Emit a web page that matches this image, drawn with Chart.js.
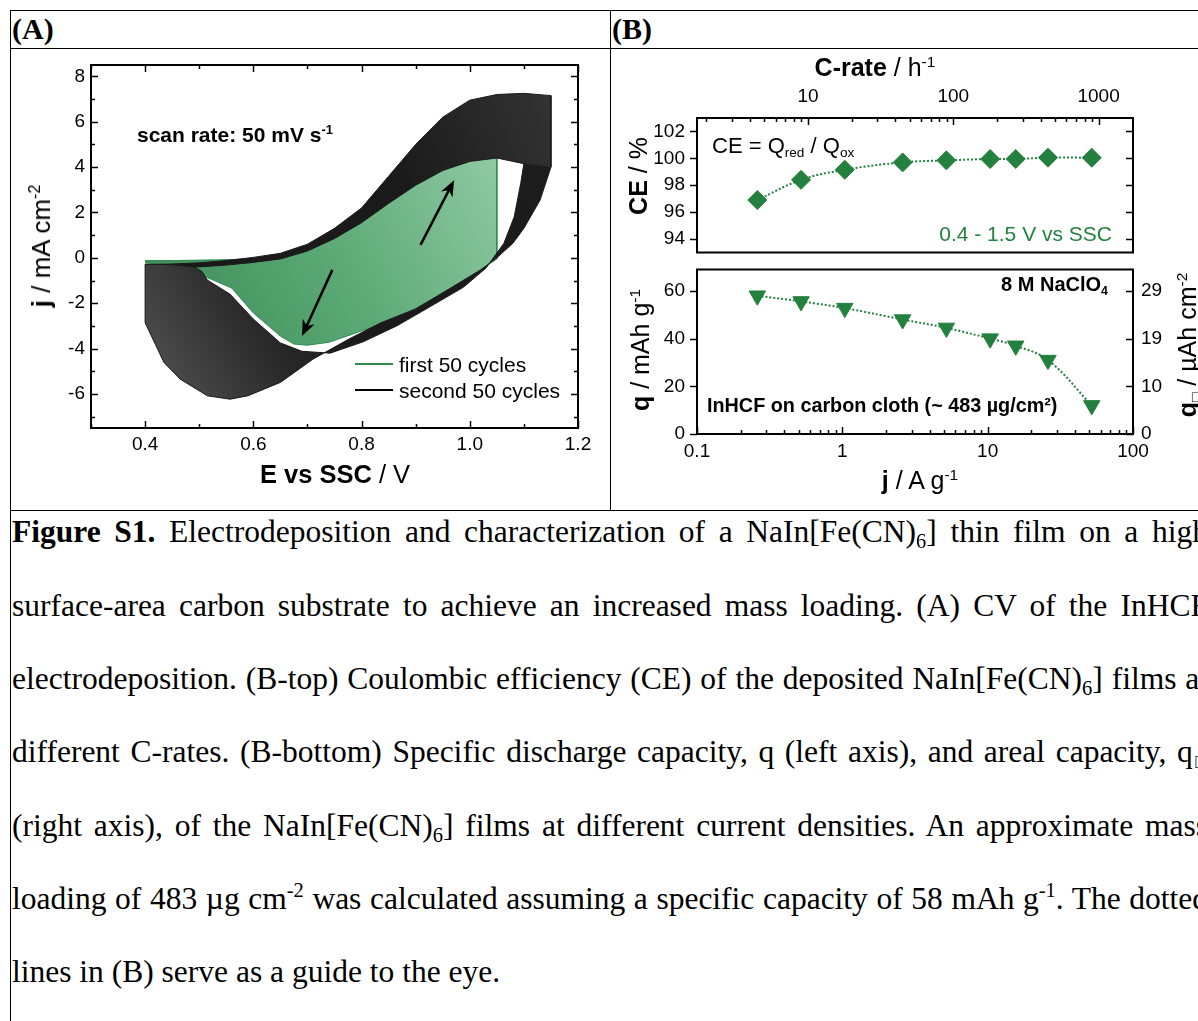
<!DOCTYPE html>
<html>
<head>
<meta charset="utf-8">
<title>Figure S1</title>
<script src="https://cdn.jsdelivr.net/npm/chart.js@4.4.1/dist/chart.umd.min.js"></script>
<style>
  html, body { margin: 0; padding: 0; }
  body { width: 1198px; height: 1021px; overflow: hidden; position: relative; background: #fff;
         font-family: "Liberation Sans", Arial, sans-serif; color: #000; }
  .hl { position: absolute; height: 1px; background: #000; }
  .vl { position: absolute; width: 1px; background: #000; }
  canvas { position: absolute; }
  .lbl { position: absolute; white-space: nowrap; line-height: 1; }
  .ctr { transform: translate(-50%, -50%); }
  .rot { transform: translate(-50%, -50%) rotate(-90deg); }
  .mid { transform: translateY(-50%); }
  .end { transform: translate(-100%, -50%); }
  sup, sub { font-size: 0.62em; line-height: 0; position: relative; vertical-align: baseline; }
  sup { top: -0.6em; }
  sub { top: 0.3em; }
  .tag { position: absolute; top: 14px; font: bold 30px "Liberation Serif", "Times New Roman", serif; line-height: 1; }
  .cap { position: absolute; left: 12px; width: 1196px; height: 44px; line-height: 44px; overflow: hidden;
         font-family: "Liberation Serif", "Times New Roman", serif; font-size: 31.5px;
         text-align: justify; text-align-last: justify; }
  .cap.last { text-align: left; text-align-last: left; }
  .cap sub, .cap sup { font-size: 0.65em; }
  .key { position: absolute; height: 2px; width: 38px; }
</style>
</head>
<body>

<!-- table rules -->
<div class="hl" style="left:10px;top:10px;width:1188px"></div>
<div class="hl" style="left:10px;top:48px;width:1188px"></div>
<div class="hl" style="left:10px;top:510px;width:1188px"></div>
<div class="vl" style="left:10px;top:10px;height:1011px"></div>
<div class="vl" style="left:610px;top:10px;height:500px"></div>
<div class="tag" style="left:12px">(A)</div>
<div class="tag" style="left:612px">(B)</div>

<canvas id="cvChart" style="left:11px;top:49px;width:598px;height:460px" width="598" height="460"></canvas>
<canvas id="ceChart" style="left:611px;top:49px;width:587px;height:214px" width="587" height="214"></canvas>
<canvas id="qChart" style="left:611px;top:259px;width:587px;height:250px" width="587" height="250"></canvas>

<!-- panel A text -->
<div class="lbl rot" style="left:41px;top:246px;font-size:26px"><b>j</b> / mA cm<sup>-2</sup></div>
<div class="lbl ctr" style="left:335px;top:475px;font-size:25.5px"><b>E vs SSC</b> / V</div>
<div class="lbl mid" style="left:137px;top:134px;font-size:21px;font-weight:bold">scan rate: 50 mV s<sup>-1</sup></div>
<div class="key" style="left:355px;top:363px;background:#2e8b4f"></div>
<div class="lbl mid" style="left:399px;top:364px;font-size:21px">first 50 cycles</div>
<div class="key" style="left:355px;top:389px;background:#000"></div>
<div class="lbl mid" style="left:399px;top:390px;font-size:21px">second 50 cycles</div>

<!-- panel B text -->
<div class="lbl ctr" style="left:875px;top:67px;font-size:25px"><b>C-rate</b> / h<sup>-1</sup></div>
<div class="lbl rot" style="left:638px;top:176px;font-size:25px"><b>CE</b> / %</div>
<div class="lbl rot" style="left:640px;top:350px;font-size:25px"><b>q</b> / mAh g<sup>-1</sup></div>
<div class="lbl rot" style="left:1187px;top:345px;font-size:25px"><b>q</b><sub>□</sub> / µAh cm<sup>-2</sup></div>
<div class="lbl ctr" style="left:920px;top:480px;font-size:25px"><b>j</b> / A g<sup>-1</sup></div>
<div class="lbl mid" style="left:712px;top:146px;font-size:22px">CE = Q<sub>red</sub> / Q<sub>ox</sub></div>
<div class="lbl end" style="left:1112px;top:233px;font-size:21px;color:#24803e">0.4 - 1.5 V vs SSC</div>
<div class="lbl end" style="left:1108px;top:284px;font-size:20px;font-weight:bold">8 M NaClO<sub>4</sub></div>
<div class="lbl mid" style="left:707px;top:406px;font-size:19.8px;font-weight:bold">InHCF on carbon cloth (~ 483 µg/cm²)</div>

<!-- caption -->
<div class="cap" style="top:510px"><b>Figure S1.</b> Electrodeposition and characterization of a NaIn[Fe(CN)<sub>6</sub>] thin film on a high</div>
<div class="cap" style="top:584px">surface-area carbon substrate to achieve an increased mass loading. (A) CV of the InHCF</div>
<div class="cap" style="top:657px">electrodeposition. (B-top) Coulombic efficiency (CE) of the deposited NaIn[Fe(CN)<sub>6</sub>] films at</div>
<div class="cap" style="top:730px">different C-rates. (B-bottom) Specific discharge capacity, q (left axis), and areal capacity, q<sub>□</sub></div>
<div class="cap" style="top:804px">(right axis), of the NaIn[Fe(CN)<sub>6</sub>] films at different current densities. An approximate mass</div>
<div class="cap" style="top:877px">loading of 483 µg cm<sup>-2</sup> was calculated assuming a specific capacity of 58 mAh g<sup>-1</sup>. The dotted</div>
<div class="cap last" style="top:950px">lines in (B) serve as a guide to the eye.</div>

<script>
// ---- Panel A: outlines of the CV cycle bundles (E / V vs SSC, j / mA cm-2)
const greenLoopE = [0.40, 0.45, 0.50, 0.55, 0.60, 0.65, 0.70, 0.75, 0.80, 0.85, 0.90, 0.95, 1.00, 1.05,
                    1.05, 0.99, 0.93, 0.87, 0.80, 0.74, 0.70, 0.675, 0.65, 0.60, 0.56, 0.515, 0.48, 0.44, 0.40];
const greenLoopJ = [-0.12, -0.12, -0.10, -0.08, -0.05, 0.05, 0.40, 0.95, 1.65, 2.50, 3.30, 3.95, 4.30, 4.45,
                    -0.05, -1.00, -1.82, -2.63, -3.22, -3.72, -3.85, -3.80, -3.45, -2.43, -1.33, -0.87, -0.55, -0.33, -0.22];

const blackUpperE = [0.40, 0.45, 0.50, 0.55, 0.60, 0.65, 0.70, 0.75, 0.80, 0.85, 0.90, 0.95, 1.00, 1.05, 1.10, 1.15,
                     1.15, 1.10, 1.05, 1.00, 0.95, 0.90, 0.85, 0.80, 0.75, 0.70, 0.65, 0.60, 0.55, 0.50, 0.45, 0.40];
const blackUpperJ = [-0.30, -0.27, -0.22, -0.12, 0.02, 0.20, 0.60, 1.30, 2.20, 3.60, 5.00, 6.20, 6.95, 7.20, 7.25, 7.15,
                     4.00, 4.15, 4.40, 4.25, 3.85, 3.20, 2.40, 1.55, 0.85, 0.30, -0.05, -0.20, -0.32, -0.40, -0.45, -0.45];

const blackLowerE = [1.15, 1.13, 1.10, 1.08, 1.05, 1.02, 0.96, 0.90, 0.835, 0.775, 0.71, 0.65, 0.59, 0.557, 0.515, 0.465, 0.435, 0.40,
                     0.40, 0.45, 0.49, 0.505, 0.515, 0.557, 0.60, 0.65, 0.69, 0.742, 0.803, 0.865, 0.927, 0.988, 1.03, 1.063, 1.082, 1.094, 1.10];
const blackLowerJ = [4.00, 2.55, 1.30, 0.65, 0.00, -0.53, -1.40, -2.25, -2.87, -3.60, -4.47, -5.49, -6.08, -6.23, -6.08, -5.35, -4.62, -2.86,
                     -0.28, -0.30, -0.40, -0.60, -0.98, -1.60, -2.70, -3.75, -4.12, -4.20, -3.70, -3.00, -2.15, -1.30, -0.45, 0.64, 1.80, 3.27, 4.15];

// scan direction arrows: [E tail, j tail, E head, j head]
const cvArrows = [[0.909, 0.57, 0.971, 3.42], [0.746, -0.53, 0.690, -3.45]];

const eTicks = [0.4, 0.6, 0.8, 1.0, 1.2];
const eMinor = [0.3, 0.5, 0.7, 0.9, 1.1];
const jTicksA = [-6, -4, -2, 0, 2, 4, 6, 8];
const jMinorA = [-7, -5, -3, -1, 1, 3, 5, 7];

// ---- Panel B: rate capability
const currentDensity = [0.26, 0.52, 1.04, 2.6, 5.2, 10.4, 15.6, 26, 52];        // A g-1
const coulombicEff   = [96.9, 98.4, 99.15, 99.7, 99.85, 99.95, 99.95, 100.05, 100.05]; // %
const specCapacity   = [58, 55.6, 52.8, 48, 44.5, 40, 37, 31, 12];               // mAh g-1

const jAxisTicks = [0.1, 1, 10, 100];
const cRateTicks = [10, 100, 1000];
const ceTicks = [94, 96, 98, 100, 102];
const qTicks = [0, 20, 40, 60];
const qArealLabels = ['0', '10', '19', '29'];
const cRatePerCurrent = 1 / 0.058;   // 1C = 58 mA g-1

const GREEN = '#24803e';

// shading of the dense line bundles (bottom-left -> top-right of each outline)
const lowerBandShade = [[0, '#555555'], [0.28, '#2a2a2a'], [0.45, '#1a1a1a'], [1, '#1c1c1c']];
const upperBandShade = [[0, '#1a1a1a'], [0.6, '#1a1a1a'], [1, '#333333']];
const greenShade = [[0, '#3a8a55'], [0.5, '#5aa873'], [1, '#8fc9a3']];

Chart.defaults.font.family = '"Liberation Sans", Arial, sans-serif';
Chart.defaults.font.size = 19;
Chart.defaults.color = '#000';

function toPts(xs, ys) {
  return xs.map((x, i) => ({ x: x, y: ys[i] }));
}

function logMinor(from, to) {
  const out = [];
  for (let d = from; d < to; d *= 10) {
    for (let k = 2; k <= 9; k++) out.push(d * k);
  }
  return out;
}

// fills the closed outline of a dataset underneath its line
const polygonFill = {
  id: 'polygonFill',
  beforeDatasetDraw(chart, args) {
    const ds = chart.data.datasets[args.index];
    if (!ds.areaShade) return;
    const { ctx, chartArea: a } = chart;
    const pts = args.meta.data;
    const xs = pts.map(p => p.x), ys = pts.map(p => p.y);
    const g = ctx.createLinearGradient(Math.min(...xs), Math.max(...ys), Math.max(...xs), Math.min(...ys));
    ds.areaShade.forEach(([t, c]) => g.addColorStop(t, c));
    ctx.save();
    ctx.beginPath();
    ctx.rect(a.left, a.top, a.right - a.left, a.bottom - a.top);
    ctx.clip();
    ctx.beginPath();
    pts.forEach((p, i) => i ? ctx.lineTo(p.x, p.y) : ctx.moveTo(p.x, p.y));
    ctx.closePath();
    ctx.fillStyle = g;
    ctx.fill();
    ctx.restore();
  }
};

// box frame plus inward/outward tick marks on any side
const frameTicks = {
  id: 'frameTicks',
  afterDraw(chart, args, opts) {
    const { ctx, chartArea: a } = chart;
    ctx.save();
    ctx.strokeStyle = '#000';
    ctx.lineWidth = 2;
    ctx.strokeRect(a.left, a.top, a.right - a.left, a.bottom - a.top);
    ctx.lineWidth = 1.5;
    (opts.marks || []).forEach(m => {
      const sc = chart.scales[m.scale];
      const one = (v, len) => {
        const p = Math.round(sc.getPixelForValue(v)) + 0.5;
        const d = len * m.dir;
        ctx.beginPath();
        if (m.side === 'bottom') { ctx.moveTo(p, a.bottom); ctx.lineTo(p, a.bottom - d); }
        if (m.side === 'top') { ctx.moveTo(p, a.top); ctx.lineTo(p, a.top + d); }
        if (m.side === 'left') { ctx.moveTo(a.left, p); ctx.lineTo(a.left + d, p); }
        if (m.side === 'right') { ctx.moveTo(a.right, p); ctx.lineTo(a.right - d, p); }
        ctx.stroke();
      };
      (m.major || []).forEach(v => one(v, 7));
      (m.minor || []).forEach(v => one(v, 4));
    });
    ctx.restore();
  }
};

const arrowPlugin = {
  id: 'cvArrows',
  afterDatasetsDraw(chart, args, opts) {
    if (!opts.list) return;
    const { ctx, scales } = chart;
    ctx.save();
    ctx.strokeStyle = '#000';
    ctx.fillStyle = '#000';
    opts.list.forEach(([e0, j0, e1, j1]) => {
      const x0 = scales.x.getPixelForValue(e0), y0 = scales.y.getPixelForValue(j0);
      const x1 = scales.x.getPixelForValue(e1), y1 = scales.y.getPixelForValue(j1);
      const ang = Math.atan2(y1 - y0, x1 - x0);
      const c = Math.cos(ang), s = Math.sin(ang);
      const head = 16, half = 6.5;
      ctx.lineWidth = 2.5;
      ctx.beginPath();
      ctx.moveTo(x0, y0);
      ctx.lineTo(x1 - head * 0.7 * c, y1 - head * 0.7 * s);
      ctx.stroke();
      ctx.beginPath();
      ctx.moveTo(x1, y1);
      ctx.lineTo(x1 - head * c - half * s, y1 - head * s + half * c);
      ctx.lineTo(x1 - head * 0.7 * c, y1 - head * 0.7 * s);
      ctx.lineTo(x1 - head * c + half * s, y1 - head * s - half * c);
      ctx.closePath();
      ctx.fill();
    });
    ctx.restore();
  }
};

// axis with a fixed thickness so every panel lines up with the figure
function sizedAxis(size, extra) {
  return Object.assign({
    grid: { display: false, drawTicks: false },
    border: { display: false },
    afterFit(s) {
      if (s.isHorizontal()) s.height = size; else s.width = size;
      s.paddingTop = s.paddingBottom = s.paddingLeft = s.paddingRight = 0;
    }
  }, extra);
}

function fixedTicks(list) {
  return s => { s.ticks = list.map(v => ({ value: v })); };
}

const quiet = { legend: { display: false }, tooltip: { enabled: false } };

// ---- Panel A
new Chart(document.getElementById('cvChart'), {
  type: 'line',
  data: {
    datasets: [
      { data: toPts(blackLowerE, blackLowerJ), areaShade: lowerBandShade, borderColor: '#1a1a1a', borderWidth: 1, pointRadius: 0 },
      { data: toPts(blackUpperE, blackUpperJ), areaShade: upperBandShade, borderColor: '#1a1a1a', borderWidth: 1, pointRadius: 0 },
      { data: toPts(greenLoopE, greenLoopJ), areaShade: greenShade, borderColor: '#2e8b4f', borderWidth: 1, pointRadius: 0 }
    ]
  },
  options: {
    responsive: false,
    animation: false,
    events: [],
    layout: { padding: { left: 0, right: 31, top: 16, bottom: 0 } },
    plugins: Object.assign({}, quiet, {
      cvArrows: { list: cvArrows },
      frameTicks: {
        marks: [
          { scale: 'x', side: 'bottom', dir: 1, major: eTicks, minor: eMinor },
          { scale: 'x', side: 'top', dir: 1, major: eTicks, minor: eMinor },
          { scale: 'y', side: 'left', dir: 1, major: jTicksA, minor: jMinorA },
          { scale: 'y', side: 'right', dir: 1, major: jTicksA, minor: jMinorA }
        ]
      }
    }),
    scales: {
      x: sizedAxis(81, {
        type: 'linear', min: 0.3, max: 1.2,
        afterBuildTicks: fixedTicks(eTicks),
        ticks: { padding: 5, maxRotation: 0, autoSkip: false, callback: v => v.toFixed(1) }
      }),
      y: sizedAxis(80, {
        type: 'linear', min: -7.5, max: 8.5,
        afterBuildTicks: fixedTicks(jTicksA),
        ticks: { padding: 6, autoSkip: false, callback: v => String(v) }
      })
    }
  },
  plugins: [polygonFill, arrowPlugin, frameTicks]
});

// ---- Panel B top: Coulombic efficiency
new Chart(document.getElementById('ceChart'), {
  type: 'line',
  data: {
    datasets: [{
      data: toPts(currentDensity, coulombicEff),
      borderColor: GREEN, borderWidth: 2, borderDash: [2, 2], tension: 0.4,
      pointStyle: 'rectRot', pointRadius: 9.5, pointBackgroundColor: GREEN, pointBorderColor: GREEN, pointBorderWidth: 1
    }]
  },
  options: {
    responsive: false,
    animation: false,
    events: [],
    layout: { padding: { left: 0, right: 65, top: 0, bottom: 2 } },
    plugins: Object.assign({}, quiet, {
      frameTicks: {
        marks: [
          { scale: 'xTop', side: 'top', dir: 1, major: cRateTicks, minor: logMinor(1, 1000) },
          { scale: 'y', side: 'left', dir: -1, major: ceTicks },
          { scale: 'y', side: 'right', dir: 1, major: ceTicks }
        ]
      }
    }),
    scales: {
      x: sizedAxis(0, { type: 'logarithmic', min: 0.1, max: 100, display: false }),
      xTop: sizedAxis(69, {
        type: 'logarithmic', position: 'top',
        min: 0.1 * cRatePerCurrent, max: 100 * cRatePerCurrent,
        afterBuildTicks: fixedTicks(cRateTicks),
        ticks: { padding: 10, maxRotation: 0, autoSkip: false, callback: v => String(v) }
      }),
      y: sizedAxis(86, {
        type: 'linear', min: 93, max: 103,
        afterBuildTicks: fixedTicks(ceTicks),
        ticks: { padding: 12, autoSkip: false, callback: v => String(v) }
      })
    }
  },
  plugins: [frameTicks]
});

// ---- Panel B bottom: specific / areal discharge capacity
new Chart(document.getElementById('qChart'), {
  type: 'line',
  data: {
    datasets: [{
      data: toPts(currentDensity, specCapacity),
      borderColor: GREEN, borderWidth: 2, borderDash: [2, 2], tension: 0.4,
      pointStyle: 'triangle', rotation: 180, pointRadius: 9.5,
      pointBackgroundColor: GREEN, pointBorderColor: GREEN, pointBorderWidth: 1
    }]
  },
  options: {
    responsive: false,
    animation: false,
    events: [],
    layout: { padding: { left: 0, right: 0, top: 2, bottom: 0 } },
    plugins: Object.assign({}, quiet, {
      frameTicks: {
        marks: [
          { scale: 'x', side: 'bottom', dir: 1, major: jAxisTicks, minor: logMinor(0.1, 100) },
          { scale: 'y', side: 'left', dir: -1, major: qTicks },
          { scale: 'y', side: 'right', dir: 1, major: qTicks }
        ]
      }
    }),
    scales: {
      x: sizedAxis(75, {
        type: 'logarithmic', min: 0.1, max: 100,
        afterBuildTicks: fixedTicks(jAxisTicks),
        ticks: { padding: 6, maxRotation: 0, autoSkip: false, callback: v => String(v) }
      }),
      y: sizedAxis(86, {
        type: 'linear', min: 0, max: 69,
        afterBuildTicks: fixedTicks(qTicks),
        ticks: { padding: 12, autoSkip: false, callback: v => String(v) }
      }),
      yArea: sizedAxis(65, {
        type: 'linear', position: 'right', min: 0, max: 69,
        afterBuildTicks: fixedTicks(qTicks),
        ticks: { padding: 8, autoSkip: false, callback: (v, i) => qArealLabels[i] }
      })
    }
  },
  plugins: [frameTicks]
});
</script>
</body>
</html>
